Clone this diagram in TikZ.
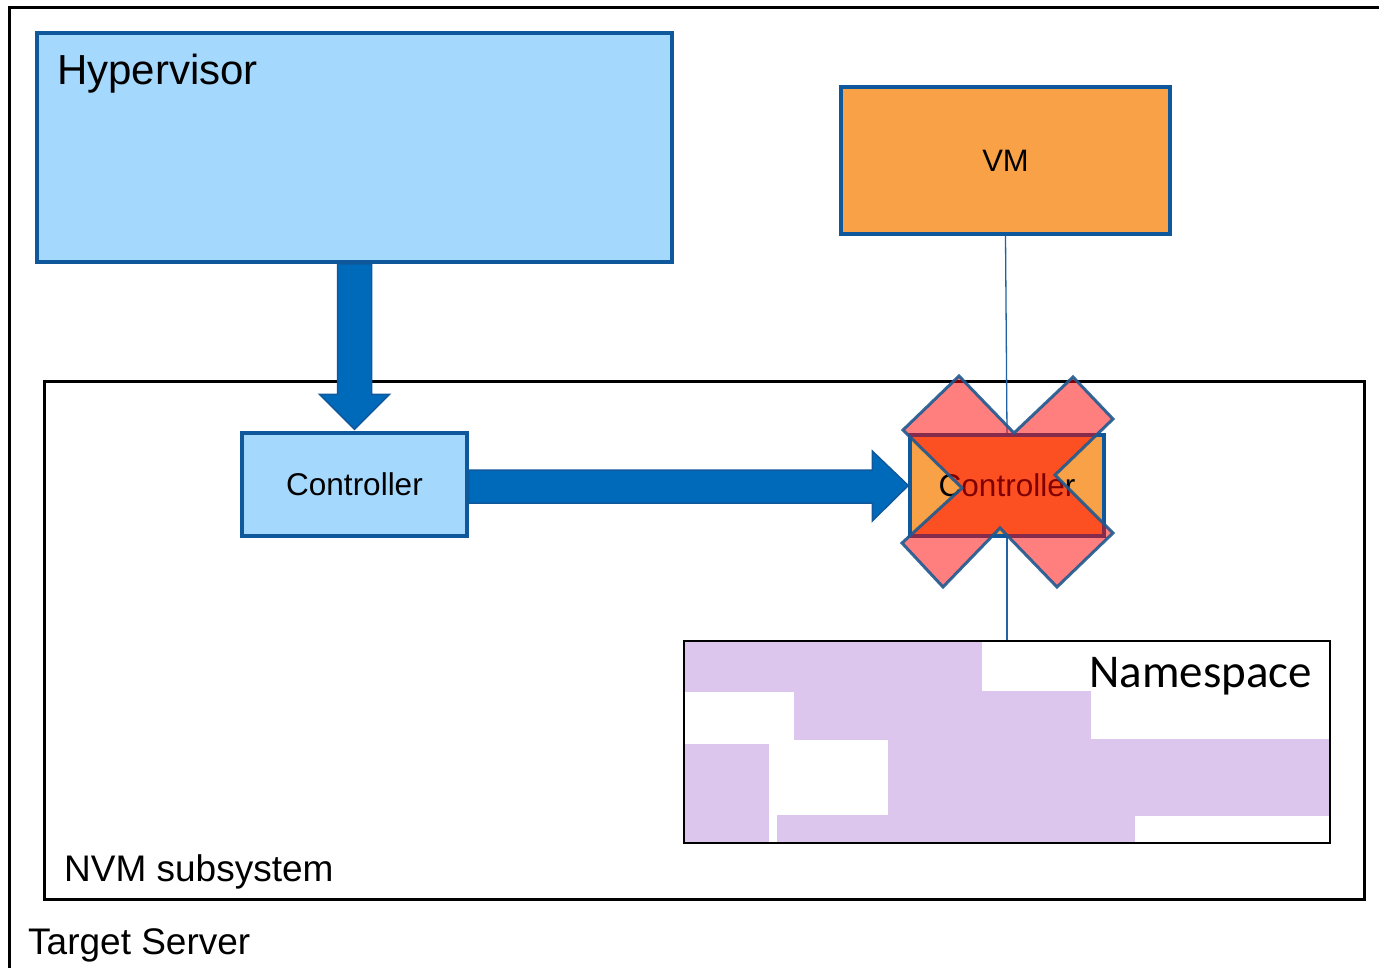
\documentclass[tikz,border=0pt]{standalone}
\usepackage{fontspec}
\setmainfont{Liberation Sans}
\newfontfamily\calib{Carlito}
\usetikzlibrary{calc}
\definecolor{hvblue}{RGB}{164,216,253}
\definecolor{bordblue}{RGB}{16,88,156}
\definecolor{arrblue}{RGB}{0,106,186}
\definecolor{vmorange}{RGB}{249,161,70}
\definecolor{nspurple}{RGB}{220,198,238}
\definecolor{xblue}{RGB}{30,90,145}
\definecolor{linkblue}{RGB}{31,100,160}
\begin{document}
\begin{tikzpicture}[x=1pt,y=-1pt,
  box/.style={draw=bordblue, line width=3.5pt, rectangle, inner sep=0pt},
  fatarrow/.style={fill=arrblue, draw=bordblue, line width=1.5pt, line join=miter},
  thinline/.style={draw=linkblue, line width=1.3pt},
  lbl/.style={inner sep=0pt, anchor=base west},
  xshape/.style={fill=red, fill opacity=0.5, draw=xblue, draw opacity=0.9, line width=3pt, line join=miter}]
\useasboundingbox (0,0) rectangle (1379,967);
\fill[white] (0,0) rectangle (1379,967);
% outer frame
\draw[line width=3pt] (9,990) -- (9,7) -- (1400,7);
% NVM subsystem
\node[draw, line width=3pt, rectangle, inner sep=0pt, minimum width=1320pt, minimum height=518pt] (nvm) at (704,640) {};
\node[lbl, font=\fontsize{37}{44}\selectfont] (nvmt) at (64,881) {NVM subsystem};
\node[lbl, font=\fontsize{37}{44}\selectfont] (tst) at (28,954) {Target Server};
% Hypervisor
\node[box, fill=hvblue, minimum width=635pt, minimum height=229pt] (hv) at (354.5,147.5) {};
\node[lbl, font=\fontsize{42}{50}\selectfont] (hvt) at (57,84) {Hypervisor};
% VM
\node[box, fill=vmorange, minimum width=329pt, minimum height=147pt, font=\fontsize{31}{37}\selectfont] (vm) at (1005.5,160.5) {VM};
% Controllers
\node[box, fill=hvblue, minimum width=225pt, minimum height=103pt, font=\fontsize{31.5}{37}\selectfont] (c1) at (354.5,484.5) {Controller};
% Namespace
\fill[nspurple] (684,641) rectangle (982,692);
\fill[nspurple] (794,691) rectangle (1091,740);
\fill[nspurple] (888,739) rectangle (1330,816);
\fill[nspurple] (684,744) rectangle (769,843);
\fill[nspurple] (777,815) rectangle (1135,843);
\node[draw, line width=2pt, rectangle, inner sep=0pt, minimum width=646pt, minimum height=202pt] (ns) at (1007,742) {};
\node[anchor=base east, inner sep=0pt, font=\calib\fontsize{47}{56}\selectfont] (nst) at (1312,687) {Namespace};
% second controller
\node[box, fill=vmorange, minimum width=194pt, minimum height=101pt, font=\fontsize{31.5}{37}\selectfont] (c2) at (1007,485.5) {Controller};
% thin links
\draw[thinline] (vm.south) -- (c2.north);
\draw[thinline] (c2.south) -- (ns.north);
% fat arrows
\draw[fatarrow] ($(hv.south)+(-17,0)$) -- ($(c1.north)+(-17,-37)$) -- ($(c1.north)+(-35,-37)$)
  -- ($(c1.north)+(0,-2)$) -- ($(c1.north)+(35,-37)$) -- ($(c1.north)+(17,-37)$) -- ($(hv.south)+(17,0)$) -- cycle;
\draw[fatarrow] ($(c1.east)+(0,-14.5)$) -- ($(c2.west)+(-36,-15.5)$) -- ($(c2.west)+(-36,-34.5)$)
  -- (c2.west) -- ($(c2.west)+(-36,35.5)$) -- ($(c2.west)+(-36,17.5)$) -- ($(c1.east)+(0,18.5)$) -- cycle;
% red cross
\draw[xshape, shift={(c2.center)}] (-48,-109.5) -- (7,-52.5) -- (66,-108.5) -- (106,-66.5) -- (48,-10.5)
  -- (106,47.5) -- (50,101.5) -- (-7,42.5) -- (-64,101.5) -- (-105,57.5) -- (-45,2.5) -- (-104,-55.5) -- cycle;
\end{tikzpicture}
\end{document}
